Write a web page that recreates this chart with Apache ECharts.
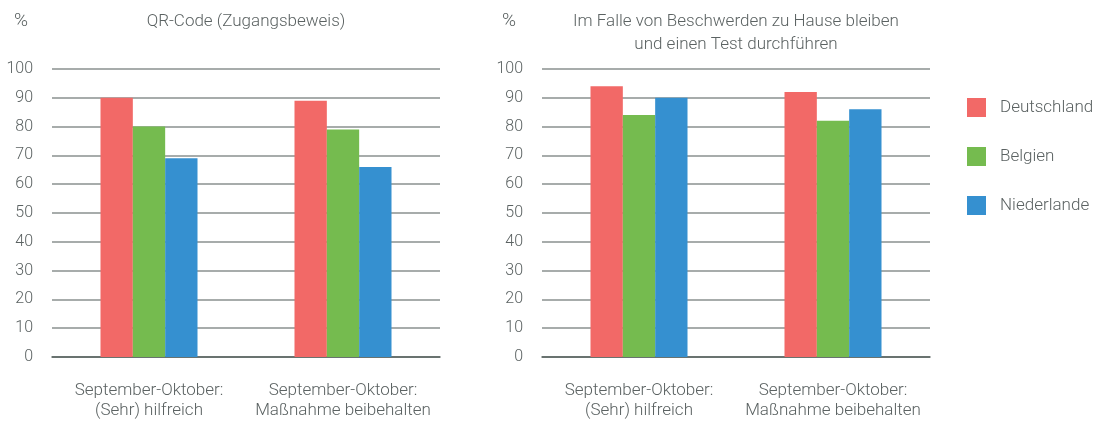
<!DOCTYPE html>
<html>
<head>
<meta charset="utf-8">
<script src="https://cdn.jsdelivr.net/npm/echarts@6/dist/echarts.min.js"></script>
<style>
  html, body { margin: 0; padding: 0; background: #fff; }
  #chart { width: 1104px; height: 421px; }
</style>
</head>
<body>
<div id="chart"></div>
<script>
const categories = ["September-Oktober:\n(Sehr) hilfreich", "September-Oktober:\nMaßnahme beibehalten"];
const countries = ["Deutschland", "Belgien", "Niederlande"];
const colors = ["#f26967", "#75bb4f", "#3590d0"];

// QR-Code (Zugangsbeweis)
const qrDeutschland = [90, 89];
const qrBelgien = [80, 79];
const qrNiederlande = [69, 66];

// Im Falle von Beschwerden zu Hause bleiben und einen Test durchführen
const homeDeutschland = [94, 92];
const homeBelgien = [84, 82];
const homeNiederlande = [90, 86];

const titles = ["QR-Code (Zugangsbeweis)", "Im Falle von Beschwerden zu Hause bleiben\nund einen Test durchführen"];

const font = "Roboto";
const textColor = "#5b6262";

const chart = echarts.init(document.getElementById("chart"));

const grids = [
  { left: 52, top: 69, width: 388, height: 291 },
  { left: 542, top: 69, width: 388, height: 291 }
];

function xAxis(i) {
  return {
    type: "category", gridIndex: i, data: categories,
    axisLine: { show: true, lineStyle: { color: "#56605e", width: 1.5 } },
    axisTick: { show: false },
    axisLabel: { color: textColor, fontFamily: font, fontWeight: 300, fontSize: 17, lineHeight: 20, margin: 24, interval: 0 }
  };
}
function yAxis(i) {
  return {
    type: "value", gridIndex: i, min: 0, max: 100, interval: 10,
    axisLine: { show: false }, axisTick: { show: false },
    splitLine: { lineStyle: { color: "#8a918f", width: 1.5 } },
    axisLabel: { color: textColor, fontFamily: font, fontWeight: 300, fontSize: 16, margin: 19, padding: [0, 0, 10, 0] }
  };
}

const qrData = [qrDeutschland, qrBelgien, qrNiederlande];
const homeData = [homeDeutschland, homeBelgien, homeNiederlande];

const series = [];
[qrData, homeData].forEach((set, g) => {
  set.forEach((vals, k) => {
    series.push({
      name: countries[k], type: "bar", xAxisIndex: g, yAxisIndex: g, data: vals,
      itemStyle: { color: colors[k] },
      barGap: "0%", barCategoryGap: "50%",
      emphasis: { disabled: true }
    });
  });
});

const titleStyle = { color: textColor, fontFamily: font, fontWeight: 300, fontSize: 17, lineHeight: 23 };
const pctStyle = { color: textColor, fontFamily: font, fontWeight: 300, fontSize: 19, lineHeight: 23 };

chart.setOption({
  animation: false,
  title: [
    { text: "%", left: 14, top: 10, textStyle: pctStyle, padding: 0 },
    { text: "%", left: 502, top: 10, textStyle: pctStyle, padding: 0 },
    { text: titles[0], left: 246, top: 10, textAlign: "center", textStyle: titleStyle, padding: 0 },
    { text: titles[1], left: 736, top: 10, textAlign: "center", textStyle: titleStyle, padding: 0 }
  ],
  legend: {
    data: countries, orient: "vertical", left: 962, top: 93,
    itemWidth: 19, itemHeight: 19, itemGap: 30, icon: "rect",
    textStyle: { color: textColor, fontFamily: font, fontWeight: 300, fontSize: 17, padding: [0, 0, 0, 9] }
  },
  grid: grids,
  xAxis: [xAxis(0), xAxis(1)],
  yAxis: [yAxis(0), yAxis(1)],
  series: series
});
</script>
</body>
</html>
